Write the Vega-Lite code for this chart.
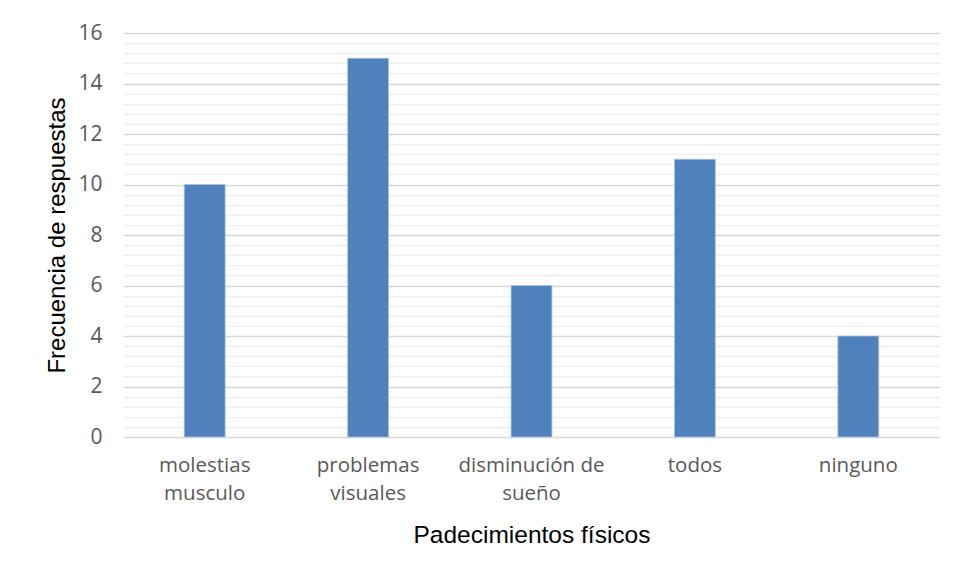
{
  "$schema": "https://vega.github.io/schema/vega-lite/v6.json",
  "autosize": {"type": "none"},
  "width": 817,
  "height": 404,
  "padding": {"left": 123, "top": 33, "right": 19, "bottom": 139},
  "background": "white",
  "config": {"view": {"stroke": null}},
  "data": {
    "values": [
      {"padecimiento": "molestias musculo", "frecuencia": 10},
      {"padecimiento": "problemas visuales", "frecuencia": 15},
      {"padecimiento": "disminución de sueño", "frecuencia": 6},
      {"padecimiento": "todos", "frecuencia": 11},
      {"padecimiento": "ninguno", "frecuencia": 4}
    ]
  },
  "layer": [
    {
      "mark": {"type": "rule", "opacity": 0},
      "encoding": {
        "y": {
          "field": "frecuencia",
          "type": "quantitative",
          "scale": {"domain": [0, 16], "nice": false},
          "axis": {
            "orient": "right",
            "title": null,
            "values": [0.4, 0.8, 1.2, 1.6, 2.4, 2.8, 3.2, 3.6, 4.4, 4.8, 5.2, 5.6, 6.4, 6.8, 7.2, 7.6, 8.4, 8.8, 9.2, 9.6, 10.4, 10.8, 11.2, 11.6, 12.4, 12.8, 13.2, 13.6, 14.4, 14.8, 15.2, 15.6],
            "labels": false,
            "ticks": false,
            "domain": false,
            "grid": true,
            "gridColor": "#f0f0f0",
            "gridWidth": 1.3,
            "zindex": 0
          }
        }
      }
    },
    {
      "mark": {"type": "bar", "color": "#4F81BD", "stroke": "#a9c1e0", "strokeWidth": 0.8},
      "encoding": {
        "x": {
          "field": "padecimiento",
          "type": "nominal",
          "sort": null,
          "scale": {"paddingInner": 0.75, "paddingOuter": 0.375},
          "axis": {
            "title": "Padecimientos físicos",
            "titleFont": "Liberation Sans",
            "titleFontSize": 24.5,
            "titleFontWeight": "normal",
            "titleColor": "#000000",
            "titleBaseline": "middle",
            "titleY": 98,
            "labelAngle": 0,
            "labelFont": "Open Sans",
            "labelFontSize": 20.5,
            "labelColor": "#595959",
            "labelPadding": 18,
            "labelLineHeight": 28,
            "labelBaseline": "top",
            "labelExpr": "datum.value == 'molestias musculo' ? ['molestias', 'musculo'] : datum.value == 'problemas visuales' ? ['problemas', 'visuales'] : datum.value == 'disminución de sueño' ? ['disminución de', 'sueño'] : datum.value",
            "ticks": false,
            "domain": false,
            "grid": false
          }
        },
        "y": {
          "field": "frecuencia",
          "type": "quantitative",
          "scale": {"domain": [0, 16], "nice": false},
          "axis": {
            "orient": "left",
            "title": "Frecuencia de respuestas",
            "titleFont": "Liberation Sans",
            "titleFontSize": 24,
            "titleFontWeight": "normal",
            "titleColor": "#000000",
            "titleBaseline": "middle",
            "titleX": -66,
            "titleY": 202,
            "values": [0, 2, 4, 6, 8, 10, 12, 14, 16],
            "labelFont": "Open Sans",
            "labelFontSize": 21,
            "labelColor": "#595959",
            "labelPadding": 21,
            "ticks": false,
            "domain": false,
            "grid": true,
            "gridColor": "#d9d9d9",
            "gridWidth": 1.5,
            "zindex": 0
          }
        }
      }
    }
  ],
  "resolve": {"axis": {"y": "independent"}}
}
